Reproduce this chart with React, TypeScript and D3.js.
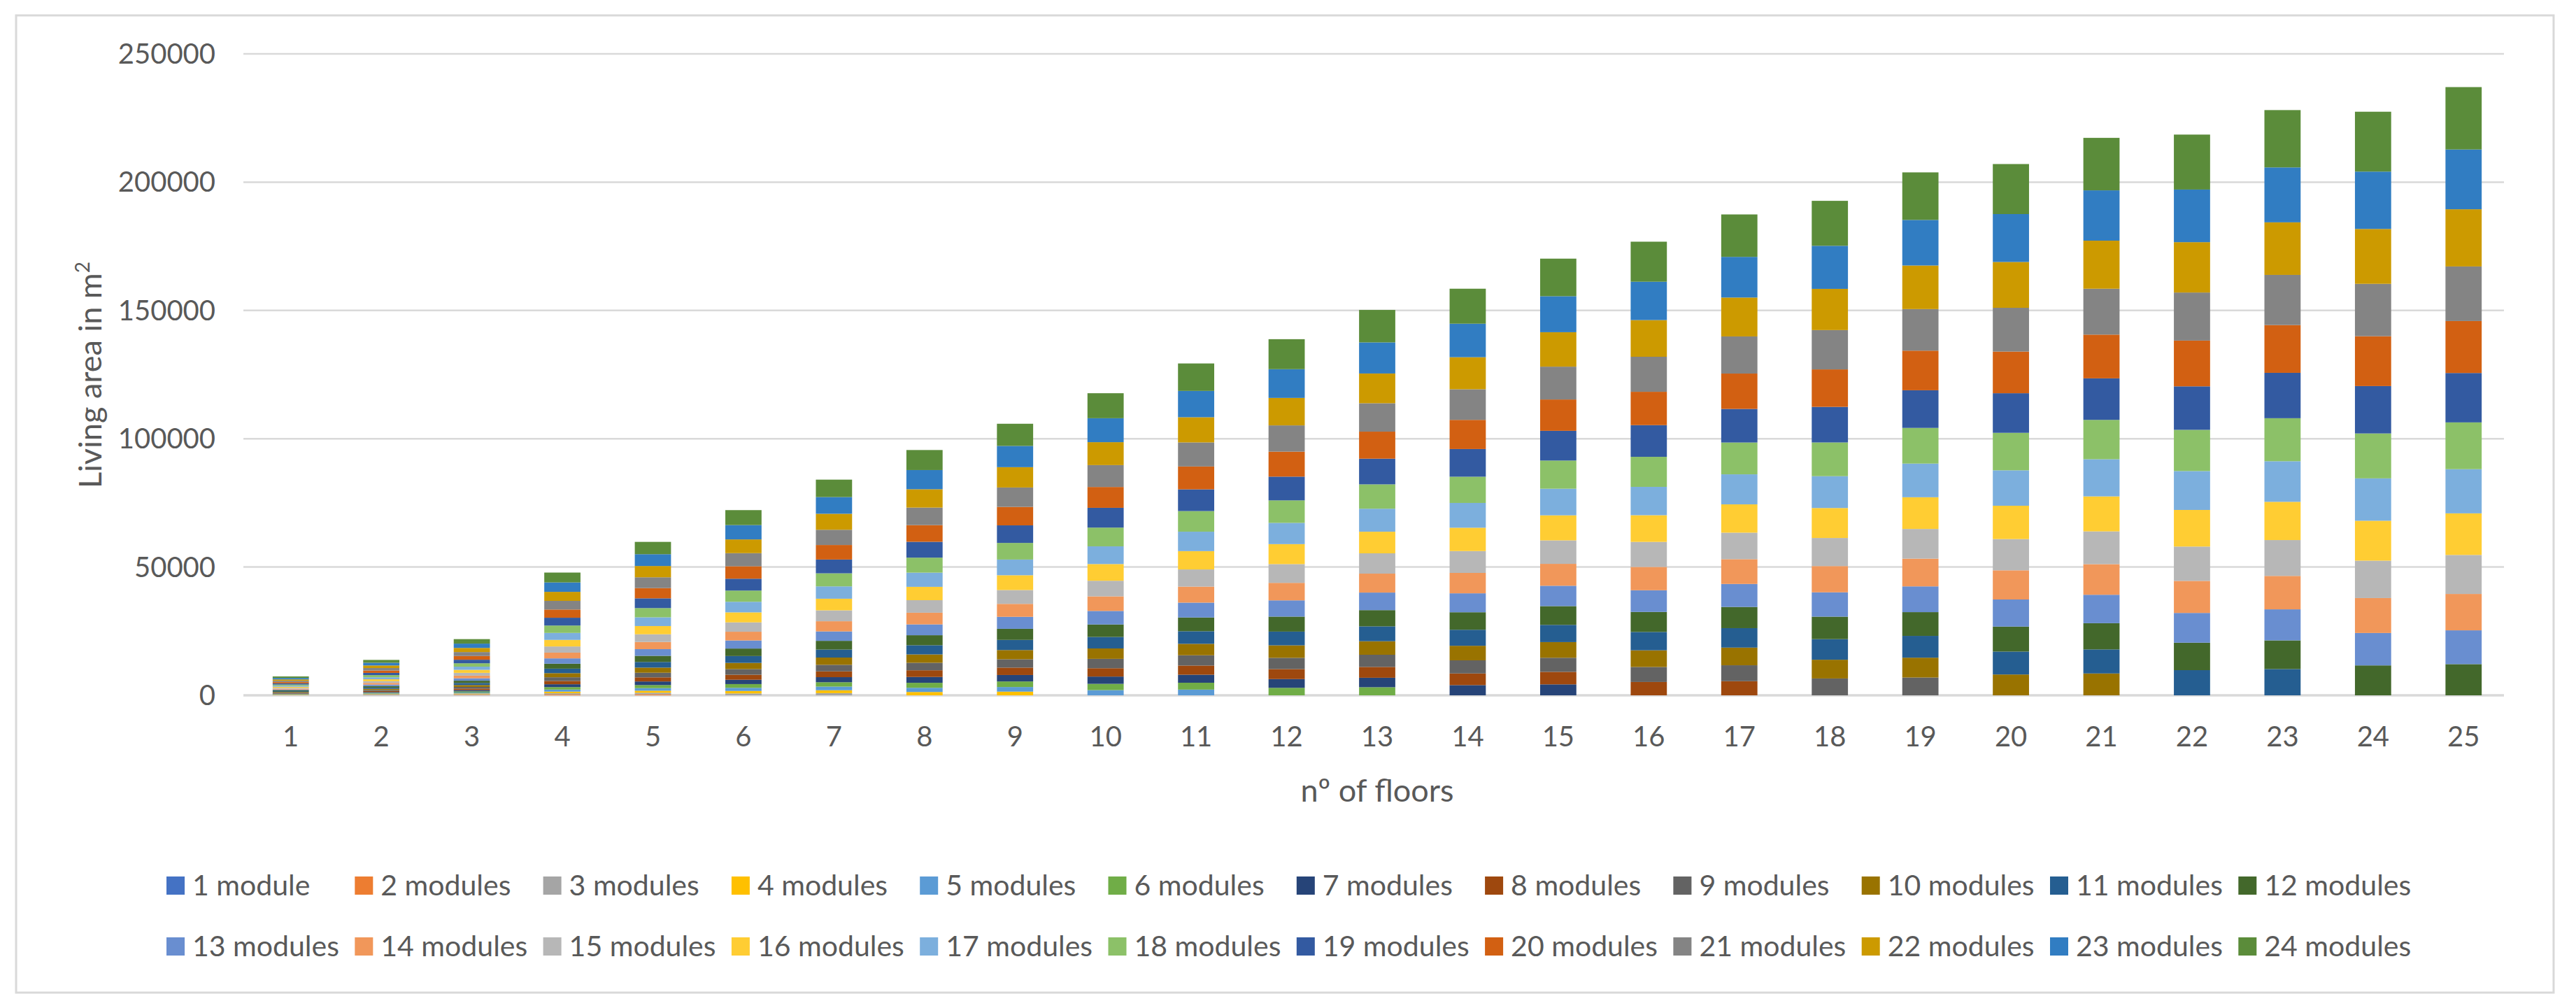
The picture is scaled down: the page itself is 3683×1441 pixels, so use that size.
import React, { useEffect, useRef } from 'react';
import * as d3 from 'd3';

// nº of floors (x categories)
const floors = ['1', '2', '3', '4', '5', '6', '7', '8', '9', '10', '11', '12', '13',
    '14', '15', '16', '17', '18', '19', '20', '21', '22', '23', '24', '25'];

const seriesNames = ['1 module', '2 modules', '3 modules', '4 modules', '5 modules', '6 modules',
    '7 modules', '8 modules', '9 modules', '10 modules', '11 modules', '12 modules',
    '13 modules', '14 modules', '15 modules', '16 modules', '17 modules', '18 modules',
    '19 modules', '20 modules', '21 modules', '22 modules', '23 modules', '24 modules'];

const yTicks = [0, 50000, 100000, 150000, 200000, 250000];

// living area (m2) per module count, one value per floor count
const m1 = [25, 46, 73, 0, 0, 0, 0, 0, 0, 0, 0, 0, 0, 0, 0, 0, 0, 0, 0, 0, 0, 0, 0, 0, 0];
const m2 = [49, 92, 146, 320, 400, 0, 0, 0, 0, 0, 0, 0, 0, 0, 0, 0, 0, 0, 0, 0, 0, 0, 0, 0, 0];
const m3 = [74, 138, 219, 480, 600, 730, 850, 0, 0, 0, 0, 0, 0, 0, 0, 0, 0, 0, 0, 0, 0, 0, 0, 0, 0];
const m4 = [98, 184, 292, 640, 800, 970, 1130, 1300, 1440, 0, 0, 0, 0, 0, 0, 0, 0, 0, 0, 0, 0, 0, 0, 0, 0];
const m5 = [123, 230, 365, 800, 1000, 1220, 1420, 1630, 1800, 2030, 2230, 0, 0, 0, 0, 0, 0, 0, 0, 0, 0, 0, 0, 0, 0];
const m6 = [147, 276, 438, 960, 1200, 1460, 1700, 1950, 2160, 2440, 2680, 2920, 3160, 0, 0, 0, 0, 0, 0, 0, 0, 0, 0, 0, 0];
const m7 = [172, 322, 511, 1120, 1400, 1700, 1980, 2280, 2520, 2840, 3120, 3410, 3690, 3980, 4270, 0, 0, 0, 0, 0, 0, 0, 0, 0, 0];
const m8 = [196, 368, 584, 1280, 1600, 1940, 2260, 2600, 2880, 3250, 3570, 3900, 4220, 4540, 4880, 5200, 5510, 0, 0, 0, 0, 0, 0, 0, 0];
const m9 = [221, 414, 657, 1440, 1800, 2190, 2550, 2930, 3240, 3650, 4010, 4380, 4740, 5110, 5490, 5850, 6200, 6570, 6950, 0, 0, 0, 0, 0, 0];
const m10 = [245, 460, 730, 1600, 2000, 2430, 2830, 3250, 3600, 4060, 4460, 4870, 5270, 5680, 6100, 6500, 6890, 7300, 7720, 8120, 8520, 0, 0, 0, 0];
const m11 = [270, 506, 803, 1760, 2200, 2670, 3110, 3580, 3960, 4470, 4910, 5360, 5800, 6250, 6710, 7150, 7580, 8030, 8490, 8930, 9370, 9810, 10240, 0, 0];
const m12 = [294, 552, 876, 1920, 2400, 2920, 3400, 3900, 4320, 4870, 5350, 5840, 6320, 6820, 7320, 7800, 8270, 8760, 9260, 9740, 10220, 10700, 11170, 11660, 12160];
const m13 = [319, 598, 949, 2080, 2600, 3160, 3680, 4230, 4680, 5280, 5800, 6330, 6850, 7380, 7930, 8450, 8960, 9490, 10040, 10560, 11080, 11600, 12100, 12640, 13170];
const m14 = [343, 644, 1022, 2240, 2800, 3400, 3960, 4550, 5040, 5680, 6240, 6820, 7380, 7950, 8540, 9100, 9650, 10220, 10810, 11370, 11930, 12490, 13030, 13610, 14180];
const m15 = [368, 690, 1095, 2400, 3000, 3650, 4250, 4880, 5400, 6090, 6690, 7310, 7910, 8520, 9150, 9750, 10340, 10950, 11580, 12180, 12780, 13380, 13970, 14580, 15200];
const m16 = [392, 736, 1168, 2560, 3200, 3890, 4530, 5200, 5760, 6500, 7140, 7790, 8430, 9090, 9760, 10400, 11020, 11680, 12350, 12990, 13630, 14270, 14900, 15550, 16210];
const m17 = [417, 782, 1241, 2720, 3400, 4130, 4810, 5530, 6120, 6900, 7580, 8280, 8960, 9660, 10370, 11050, 11710, 12410, 13120, 13800, 14480, 15160, 15830, 16520, 17220];
const m18 = [441, 828, 1314, 2880, 3600, 4370, 5090, 5850, 6480, 7310, 8030, 8770, 9490, 10220, 10980, 11700, 12400, 13140, 13900, 14620, 15340, 16060, 16760, 17500, 18230];
const m19 = [466, 874, 1387, 3040, 3800, 4620, 5380, 6180, 6840, 7710, 8470, 9250, 10010, 10790, 11590, 12350, 13090, 13870, 14670, 15430, 16190, 16950, 17690, 18470, 19250];
const m20 = [490, 920, 1460, 3200, 4000, 4860, 5660, 6500, 7200, 8120, 8920, 9740, 10540, 11360, 12200, 13000, 13780, 14600, 15440, 16240, 17040, 17840, 18620, 19440, 20260];
const m21 = [515, 966, 1533, 3360, 4200, 5100, 5940, 6830, 7560, 8530, 9370, 10230, 11070, 11930, 12810, 13650, 14470, 15330, 16210, 17050, 17890, 18730, 19550, 20410, 21270];
const m22 = [539, 1012, 1606, 3520, 4400, 5350, 6230, 7150, 7920, 8930, 9810, 10710, 11590, 12500, 13420, 14300, 15160, 16060, 16980, 17860, 18740, 19620, 20480, 21380, 22290];
const m23 = [564, 1058, 1679, 3680, 4600, 5590, 6510, 7480, 8280, 9340, 10260, 11200, 12120, 13060, 14030, 14950, 15850, 16790, 17760, 18680, 19600, 20520, 21410, 22360, 23300];
const m24 = [588, 1104, 1752, 3840, 4800, 5830, 6790, 7800, 8640, 9740, 10700, 11690, 12650, 13630, 14640, 15600, 16540, 17520, 18530, 19490, 20450, 21410, 22340, 23330, 24310];

const seriesValues = [m1, m2, m3, m4, m5, m6, m7, m8, m9, m10, m11, m12,
    m13, m14, m15, m16, m17, m18, m19, m20, m21, m22, m23, m24];

// excel office palette + its darker / lighter variations
const colorArray = [
    '#4472C4', '#ED7D31', '#A5A5A5', '#FFC000', '#5B9BD5', '#70AD47',
    '#264478', '#9E480E', '#636363', '#997300', '#255E91', '#43682B',
    '#698ED0', '#F1975A', '#B7B7B7', '#FFCD33', '#7CAFDD', '#8CC168',
    '#335AA1', '#D26012', '#848484', '#CC9A00', '#317DC2', '#5B8C3A',
];

const width = 3683;
const height = 1441;
const fontFamily = "Lato, 'Noto Sans', sans-serif";
const textColor = '#595959';

const App: React.FC = () => {
    const ref = useRef<SVGSVGElement>(null);

    useEffect(() => {
        const svg = d3.select(ref.current);
        svg.selectAll('*').remove();

        const table = floors.map((f, i) => {
            const row: { [key: string]: number | string } = { floor: f };
            seriesNames.forEach((name, s) => { row[name] = seriesValues[s][i]; });
            return row;
        });

        const stacked = d3.stack<any>().keys(seriesNames)(table);

        const x = d3.scaleBand()
            .domain(floors)
            .range([351, 3587])
            .paddingInner(0.6)
            .paddingOuter(0.3);

        const y = d3.scaleLinear()
            .domain([0, 250000])
            .range([994, 77]);

        svg.append('rect')
            .attr('x', 0).attr('y', 0)
            .attr('width', width).attr('height', height)
            .attr('fill', '#ffffff');

        // chart frame
        svg.append('rect')
            .attr('x', 23).attr('y', 22)
            .attr('width', 3628).attr('height', 1397)
            .attr('fill', 'none')
            .attr('stroke', '#d9d9d9')
            .attr('stroke-width', 3);

        // gridlines
        svg.append('g')
            .selectAll('line')
            .data(yTicks)
            .enter()
            .append('line')
            .attr('x1', 348)
            .attr('x2', 3580)
            .attr('y1', (d) => y(d))
            .attr('y2', (d) => y(d))
            .attr('stroke', '#d9d9d9')
            .attr('stroke-width', (d) => (d === 0 ? 3.5 : 2.5));

        // y tick labels
        svg.append('g')
            .selectAll('text')
            .data(yTicks)
            .enter()
            .append('text')
            .attr('x', 308)
            .attr('y', (d) => y(d))
            .attr('dy', '0.35em')
            .attr('text-anchor', 'end')
            .attr('font-family', fontFamily)
            .attr('font-size', 40)
            .attr('fill', textColor)
            .text((d) => String(d));

        // stacked bars
        const layers = svg.append('g')
            .selectAll('g')
            .data(stacked)
            .enter()
            .append('g')
            .attr('fill', (d, i) => colorArray[i]);

        layers.selectAll('rect')
            .data((d) => d.map((seg) => ({ seg, floor: seg.data.floor as string })))
            .enter()
            .append('rect')
            .attr('x', (d) => x(d.floor) as number)
            .attr('width', x.bandwidth())
            .attr('y', (d) => y(d.seg[1]))
            .attr('height', (d) => Math.max(0, y(d.seg[0]) - y(d.seg[1])));

        // x tick labels
        svg.append('g')
            .selectAll('text')
            .data(floors)
            .enter()
            .append('text')
            .attr('x', (d) => (x(d) as number) + x.bandwidth() / 2)
            .attr('y', 1053)
            .attr('dy', '0.35em')
            .attr('text-anchor', 'middle')
            .attr('font-family', fontFamily)
            .attr('font-size', 40)
            .attr('fill', textColor)
            .text((d) => d);

        // axis titles
        svg.append('text')
            .attr('x', 1969)
            .attr('y', 1130)
            .attr('dy', '0.35em')
            .attr('text-anchor', 'middle')
            .attr('font-family', fontFamily)
            .attr('font-size', 45)
            .attr('fill', textColor)
            .text('nº of floors');

        const yTitle = svg.append('text')
            .attr('transform', 'translate(129, 536) rotate(-90)')
            .attr('dy', '0.35em')
            .attr('text-anchor', 'middle')
            .attr('font-family', fontFamily)
            .attr('font-size', 45)
            .attr('fill', textColor);
        yTitle.append('tspan').text('Living area in m');
        yTitle.append('tspan')
            .attr('dy', '-0.6em')
            .attr('font-size', 28)
            .text('2');

        // legend, two rows of twelve
        const legend = svg.append('g')
            .selectAll('g')
            .data(seriesNames)
            .enter()
            .append('g')
            .attr('transform', (d, i) => `translate(${238 + (i % 12) * 269.3}, ${i < 12 ? 1266 : 1353})`);

        legend.append('rect')
            .attr('x', 0)
            .attr('y', -13)
            .attr('width', 26)
            .attr('height', 26)
            .attr('fill', (d, i) => colorArray[i]);

        legend.append('text')
            .attr('x', 37)
            .attr('y', 0)
            .attr('dy', '0.35em')
            .attr('font-family', fontFamily)
            .attr('font-size', 41)
            .attr('fill', textColor)
            .text((d) => d);
    }, []);

    return (
        <svg ref={ref} width={width} height={height}
            style={{ position: 'absolute', left: 0, top: 0, display: 'block' }}>
        </svg>
    );
};

export default App;
